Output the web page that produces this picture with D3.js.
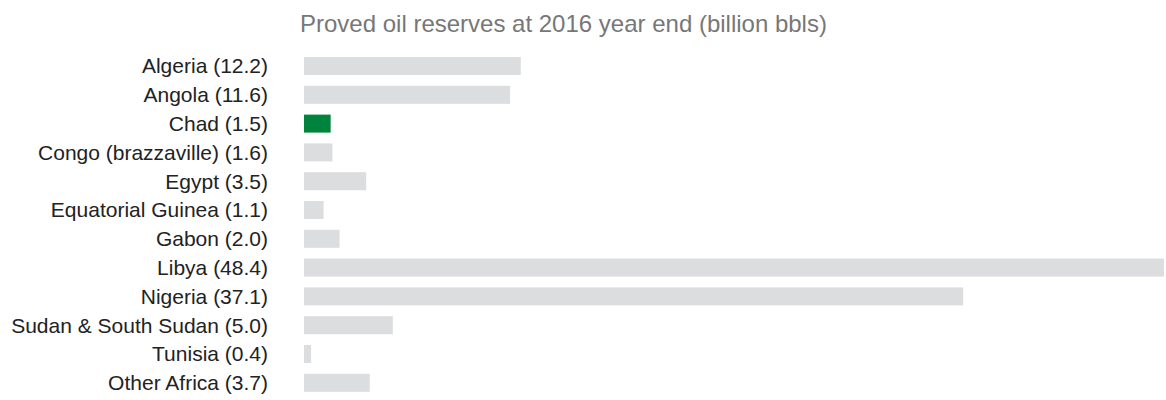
<!DOCTYPE html>
<html>
<head>
<meta charset="utf-8">
<script src="https://cdn.jsdelivr.net/npm/d3@7"></script>
<style>
  body { margin: 0; background: #fff; }
  svg { display: block; font-family: "Liberation Sans", Arial, sans-serif; }
</style>
</head>
<body>
<div id="chart"></div>
<script>
const countries = ['Algeria', 'Angola', 'Chad', 'Congo (brazzaville)', 'Egypt', 'Equatorial Guinea',
  'Gabon', 'Libya', 'Nigeria', 'Sudan & South Sudan', 'Tunisia', 'Other Africa'];
const reserves = [12.2, 11.6, 1.5, 1.6, 3.5, 1.1, 2.0, 48.4, 37.1, 5.0, 0.4, 3.7];
const highlight = ['Chad'];
const title = 'Proved oil reserves at 2016 year end (billion bbls)';

const width = 1166, height = 400;
const svg = d3.select('#chart').append('svg')
  .attr('width', width)
  .attr('height', height);

const data = countries.map((c, i) => ({ name: c, value: reserves[i] }));

const x = d3.scaleLinear()
  .domain([0, d3.max(reserves)])
  .range([304, 1164]);

const y = d3.scaleBand()
  .domain(countries)
  .range([51.6, 51.6 + 12 * 28.8])
  .paddingInner(0.375)
  .paddingOuter(0.1875);

svg.append('text')
  .attr('x', 300)
  .attr('y', 32)
  .attr('fill', '#777')
  .attr('font-size', '24px')
  .text(title);

svg.append('g')
  .selectAll('rect')
  .data(data)
  .enter().append('rect')
  .attr('x', x(0))
  .attr('y', d => y(d.name))
  .attr('width', d => x(d.value) - x(0))
  .attr('height', y.bandwidth())
  .attr('fill', d => highlight.includes(d.name) ? '#00843d' : '#dcdddf');

svg.append('g')
  .selectAll('text')
  .data(data)
  .enter().append('text')
  .attr('x', 268)
  .attr('y', d => y(d.name) + y.bandwidth() / 2)
  .attr('dy', '0.35em')
  .attr('text-anchor', 'end')
  .attr('fill', '#222')
  .attr('font-size', '21px')
  .text(d => `${d.name} (${d.value.toFixed(1)})`);
</script>
</body>
</html>
